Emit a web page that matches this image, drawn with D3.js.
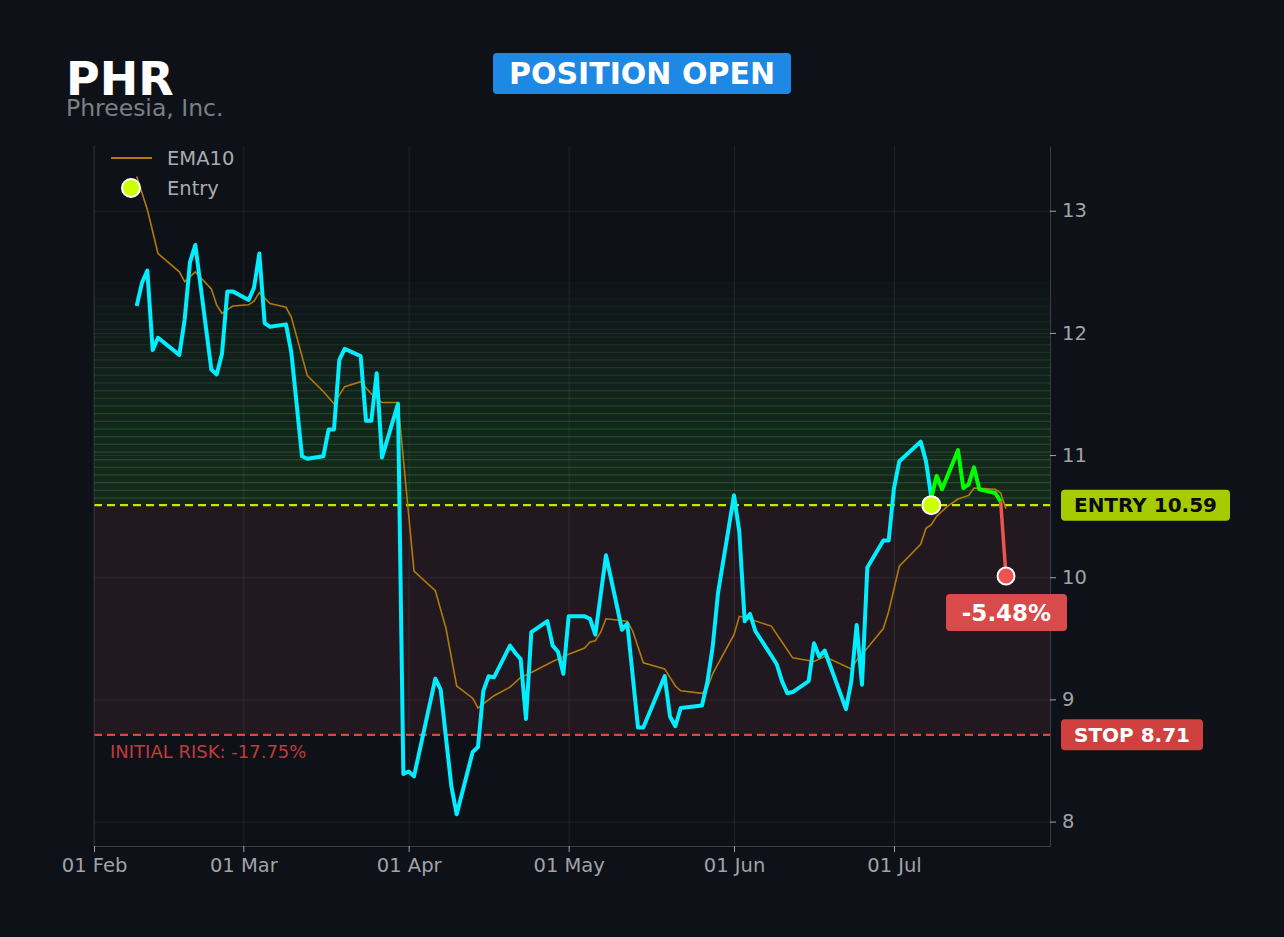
<!DOCTYPE html>
<html>
<head>
<meta charset="utf-8">
<script src="https://cdn.jsdelivr.net/npm/d3@7"></script>
<style>
  html, body { margin: 0; padding: 0; background: #0e1118; }
  svg { display: block; font-family: "DejaVu Sans", sans-serif; }
</style>
</head>
<body>
<div id="chart"></div>
<script>
// ---- data ----
const ticker = "PHR"
const company = "Phreesia, Inc."
const status = "POSITION OPEN"

const priceDates = ["2023-02-09","2023-02-10","2023-02-11","2023-02-12","2023-02-13","2023-02-17","2023-02-18","2023-02-19","2023-02-20","2023-02-23","2023-02-24","2023-02-25","2023-02-26","2023-02-27","2023-03-02","2023-03-03","2023-03-04","2023-03-05","2023-03-06","2023-03-09","2023-03-10","2023-03-12","2023-03-13","2023-03-16","2023-03-17","2023-03-18","2023-03-19","2023-03-20","2023-03-23","2023-03-24","2023-03-25","2023-03-26","2023-03-27","2023-03-30","2023-03-31","2023-04-01","2023-04-02","2023-04-06","2023-04-07","2023-04-09","2023-04-10","2023-04-13","2023-04-14","2023-04-15","2023-04-16","2023-04-17","2023-04-20","2023-04-21","2023-04-22","2023-04-23","2023-04-24","2023-04-27","2023-04-28","2023-04-29","2023-04-30","2023-05-01","2023-05-04","2023-05-05","2023-05-06","2023-05-08","2023-05-11","2023-05-12","2023-05-14","2023-05-15","2023-05-19","2023-05-20","2023-05-21","2023-05-22","2023-05-26","2023-05-27","2023-05-28","2023-05-29","2023-06-01","2023-06-02","2023-06-03","2023-06-04","2023-06-05","2023-06-09","2023-06-10","2023-06-11","2023-06-12","2023-06-15","2023-06-16","2023-06-17","2023-06-18","2023-06-22","2023-06-23","2023-06-24","2023-06-25","2023-06-26","2023-06-29","2023-06-30","2023-07-01","2023-07-02","2023-07-06","2023-07-07","2023-07-08"]
const priceValues = [12.22,12.41,12.51,11.86,11.96,11.82,12.11,12.58,12.72,11.70,11.66,11.83,12.34,12.34,12.27,12.37,12.65,12.08,12.05,12.07,11.84,10.99,10.97,10.99,11.21,11.21,11.78,11.87,11.81,11.28,11.28,11.67,10.98,11.42,8.39,8.41,8.37,9.17,9.08,8.29,8.06,8.57,8.61,9.07,9.19,9.18,9.44,9.38,9.33,8.84,9.55,9.64,9.44,9.39,9.21,9.68,9.68,9.66,9.53,10.18,9.57,9.62,8.77,8.77,9.19,8.86,8.78,8.93,8.95,9.14,9.43,9.87,10.67,10.37,9.64,9.70,9.56,9.29,9.15,9.05,9.06,9.15,9.46,9.35,9.40,8.92,9.15,9.61,9.12,10.08,10.30,10.30,10.73,10.95,11.11,10.95,10.65]

// in-trade prices (after entry)
const tradeDates = ["2023-07-08","2023-07-09","2023-07-10","2023-07-13","2023-07-14","2023-07-15","2023-07-16","2023-07-17","2023-07-20","2023-07-21"]
const tradeValues = [10.65,10.83,10.72,11.04,10.73,10.76,10.90,10.72,10.69,10.62]

const emaDates = ["2023-02-09","2023-02-11","2023-02-13","2023-02-17","2023-02-18","2023-02-20","2023-02-23","2023-02-24","2023-02-25","2023-02-27","2023-03-02","2023-03-03","2023-03-04","2023-03-06","2023-03-09","2023-03-10","2023-03-13","2023-03-16","2023-03-18","2023-03-20","2023-03-23","2023-03-25","2023-03-27","2023-03-30","2023-04-02","2023-04-06","2023-04-08","2023-04-10","2023-04-13","2023-04-14","2023-04-17","2023-04-20","2023-04-22","2023-04-24","2023-04-28","2023-05-01","2023-05-04","2023-05-05","2023-05-06","2023-05-07","2023-05-08","2023-05-12","2023-05-13","2023-05-15","2023-05-19","2023-05-21","2023-05-22","2023-05-26","2023-05-27","2023-05-28","2023-05-29","2023-06-01","2023-06-02","2023-06-03","2023-06-08","2023-06-10","2023-06-12","2023-06-16","2023-06-18","2023-06-23","2023-06-24","2023-06-26","2023-06-29","2023-06-30","2023-07-02","2023-07-06","2023-07-07","2023-07-08","2023-07-09","2023-07-11","2023-07-13","2023-07-15","2023-07-16","2023-07-20","2023-07-21","2023-07-22"]
const emaValues = [13.28,13.01,12.65,12.50,12.42,12.50,12.36,12.23,12.16,12.22,12.23,12.26,12.33,12.24,12.21,12.13,11.65,11.52,11.42,11.56,11.60,11.50,11.43,11.43,10.05,9.89,9.58,9.11,9.01,8.93,9.03,9.10,9.18,9.22,9.31,9.37,9.42,9.47,9.48,9.55,9.66,9.64,9.56,9.30,9.25,9.11,9.07,9.05,9.09,9.21,9.29,9.53,9.68,9.67,9.60,9.47,9.34,9.31,9.35,9.25,9.32,9.42,9.58,9.72,10.09,10.27,10.40,10.43,10.50,10.58,10.64,10.67,10.73,10.72,10.69,10.56]

const entryDate = "2023-07-08", entryPrice = 10.59
const exitDate = "2023-07-22", exitPrice = 10.01
const stopPrice = 8.71
const targetTop = 12.41      // top of the faded green zone
const zoneSteps = 29
const pnlText = "-5.48%"
const riskText = "INITIAL RISK: -17.75%"

const yTicks = [8, 9, 10, 11, 12, 13]
const monthTicks = ["2023-02-01","2023-03-01","2023-04-01","2023-05-01","2023-06-01","2023-07-01"]
const xStart = "2023-02-01T00:00", xEnd = "2023-07-30T06:00"
const yMin = 7.80, yMax = 13.53

// ---- layout ----
const width = 1284, height = 937
const margin = {top: 146, right: 234, bottom: 91, left: 94}
const pxX = width - margin.left - margin.right,
    pxY = height - margin.top - margin.bottom

const parse = d3.utcParse("%Y-%m-%d")
const parseT = d3.utcParse("%Y-%m-%dT%H:%M")

let svg = d3.select("#chart").append("svg")
    .attr("width", width).attr("height", height)
    .style("background", "#0e1118")

let scX = d3.scaleUtc().domain([parseT(xStart), parseT(xEnd)]).range([0, pxX])
let scY = d3.scaleLinear().domain([yMin, yMax]).range([pxY, 0])

let g = svg.append("g").attr("transform", `translate(${margin.left},${margin.top})`)

// risk zone (stop -> entry)
g.append("rect")
    .attr("x", 0).attr("width", pxX)
    .attr("y", scY(entryPrice)).attr("height", scY(stopPrice) - scY(entryPrice))
    .attr("fill", "#211820")

// faded green target zone, stripes
let step = (targetTop - entryPrice) / zoneSteps
let fillCol = d3.interpolateRgb("#14291c", "#0f1419")
let lineCol = d3.interpolateRgb("#25582c", "#10171a")
for (let i = 0; i < zoneSteps; i++) {
    let lo = entryPrice + i * step, hi = lo + step
    let t = Math.pow(i / (zoneSteps - 1), 1.8)
    g.append("rect")
        .attr("x", 0).attr("width", pxX)
        .attr("y", scY(hi)).attr("height", scY(lo) - scY(hi))
        .attr("fill", fillCol(t))
    g.append("line")
        .attr("x1", 0).attr("x2", pxX)
        .attr("y1", scY(hi)).attr("y2", scY(hi))
        .attr("stroke", lineCol(t)).attr("stroke-width", 2)
}

// grid
const xAxisGrid = d3.axisBottom(scX).tickValues(monthTicks.map(parse)).tickSize(-pxY).tickFormat("")
g.append("g").attr("transform", `translate(0,${pxY})`).call(xAxisGrid)
    .call(a => a.select(".domain").remove())
    .selectAll("line").attr("stroke", "#ffffff").attr("stroke-opacity", 0.07)
const yAxisGrid = d3.axisLeft(scY).tickValues(yTicks).tickSize(-pxX).tickFormat("")
g.append("g").call(yAxisGrid)
    .call(a => a.select(".domain").remove())
    .selectAll("line").attr("stroke", "#ffffff").attr("stroke-opacity", 0.07)

// entry and stop lines
g.append("line")
    .attr("x1", 0).attr("x2", pxX)
    .attr("y1", scY(entryPrice)).attr("y2", scY(entryPrice))
    .attr("stroke", "#c8e600").attr("stroke-width", 2.4).attr("stroke-dasharray", "8,5")
g.append("line")
    .attr("x1", 0).attr("x2", pxX)
    .attr("y1", scY(stopPrice)).attr("y2", scY(stopPrice))
    .attr("stroke", "#e0443f").attr("stroke-width", 2.4).attr("stroke-dasharray", "8,5")

g.append("text")
    .attr("x", 16).attr("y", scY(stopPrice) + 23)
    .attr("fill", "#c23a3c").style("font-size", "18px")
    .text(riskText)

// lines
let makeLine = d3.line().x(d => scX(d[0])).y(d => scY(d[1]))

let ema = emaDates.map((d, i) => [parse(d), emaValues[i]])
g.append("path").attr("d", makeLine(ema))
    .attr("fill", "none").attr("stroke", "#b07a0c").attr("stroke-width", 1.6)

let price = priceDates.map((d, i) => [parse(d), priceValues[i]])
g.append("path").attr("d", makeLine(price))
    .attr("fill", "none").attr("stroke", "#00eeff").attr("stroke-width", 4)
    .attr("stroke-linejoin", "round")

let trade = tradeDates.map((d, i) => [parse(d), tradeValues[i]])
let last = trade[trade.length - 1]
g.append("path").attr("d", makeLine([last, [parse(exitDate), exitPrice]]))
    .attr("fill", "none").attr("stroke", "#ef5350").attr("stroke-width", 3.5)
g.append("path").attr("d", makeLine(trade))
    .attr("fill", "none").attr("stroke", "#00ff00").attr("stroke-width", 4)
    .attr("stroke-linejoin", "round")

// markers
g.append("circle")
    .attr("cx", scX(parse(entryDate))).attr("cy", scY(entryPrice)).attr("r", 9)
    .attr("fill", "#ccff00").attr("stroke", "#ffffff").attr("stroke-width", 2)
g.append("circle")
    .attr("cx", scX(parse(exitDate))).attr("cy", scY(exitPrice)).attr("r", 8.5)
    .attr("fill", "#ef5350").attr("stroke", "#ffffff").attr("stroke-width", 2)

// axes
let yAxis = d3.axisRight(scY).tickValues(yTicks).tickFormat(d3.format("d"))
    .tickSize(6).tickSizeOuter(0).tickPadding(6)
g.append("g").attr("transform", `translate(${pxX},0)`).call(yAxis)
    .call(a => a.select(".domain").attr("stroke", "#3a3d44"))
    .call(a => a.selectAll("line").attr("stroke", "#a0a3a8"))
    .call(a => a.selectAll("text").attr("fill", "#a0a3a8")
        .style("font-size", "19.5px").style("font-family", "DejaVu Sans"))

let xAxis = d3.axisBottom(scX).tickValues(monthTicks.map(parse))
    .tickFormat(d3.utcFormat("%d %b")).tickSize(6).tickSizeOuter(0).tickPadding(6)
g.append("g").attr("transform", `translate(0,${pxY})`).call(xAxis)
    .call(a => a.select(".domain").attr("stroke", "#3a3d44"))
    .call(a => a.selectAll("line").attr("stroke", "#a0a3a8"))
    .call(a => a.selectAll("text").attr("fill", "#a0a3a8")
        .style("font-size", "19.5px").style("font-family", "DejaVu Sans"))

// left spine
g.append("line").attr("x1", 0).attr("x2", 0).attr("y1", 0).attr("y2", pxY)
    .attr("stroke", "#2a2e35")

// legend
let lg = g.append("g")
lg.append("line").attr("x1", 17).attr("x2", 58).attr("y1", 12).attr("y2", 12)
    .attr("stroke", "#b07a0c").attr("stroke-width", 2)
lg.append("text").attr("x", 73).attr("y", 19).attr("fill", "#a8abb0")
    .style("font-size", "19.5px").text("EMA10")
lg.append("circle").attr("cx", 37).attr("cy", 42).attr("r", 9)
    .attr("fill", "#ccff00").attr("stroke", "#ffffff").attr("stroke-width", 2)
lg.append("text").attr("x", 73).attr("y", 49).attr("fill", "#a8abb0")
    .style("font-size", "19.5px").text("Entry")

// right side badges
function badge(x, yMid, w, h, fill, txt, txtCol, size) {
    let b = svg.append("g")
    b.append("rect").attr("x", x).attr("y", yMid - h / 2).attr("width", w).attr("height", h)
        .attr("rx", 4).attr("fill", fill)
    b.append("text").attr("x", x + w / 2).attr("y", yMid).attr("dy", "0.36em")
        .attr("text-anchor", "middle").attr("fill", txtCol)
        .style("font-size", size + "px").style("font-weight", "bold").text(txt)
}
badge(1061, margin.top + scY(entryPrice), 169, 31, "#a6cb00", "ENTRY " + entryPrice.toFixed(2), "#0b0b0b", 20)
badge(1061, margin.top + scY(stopPrice), 142, 31, "#d0403f", "STOP " + stopPrice.toFixed(2), "#ffffff", 20)
badge(946, 612.5, 121, 37, "#d94a4a", pnlText, "#ffffff", 23)

// header
svg.append("text").attr("x", 66).attr("y", 95).attr("fill", "#ffffff")
    .style("font-size", "46px").style("font-weight", "bold").text(ticker)
svg.append("text").attr("x", 66).attr("y", 116).attr("fill", "#7c7f86")
    .style("font-size", "23.5px").text(company)
badge(493, 73.5, 298, 41, "#1e88e5", status, "#ffffff", 30)
</script>
</body>
</html>
